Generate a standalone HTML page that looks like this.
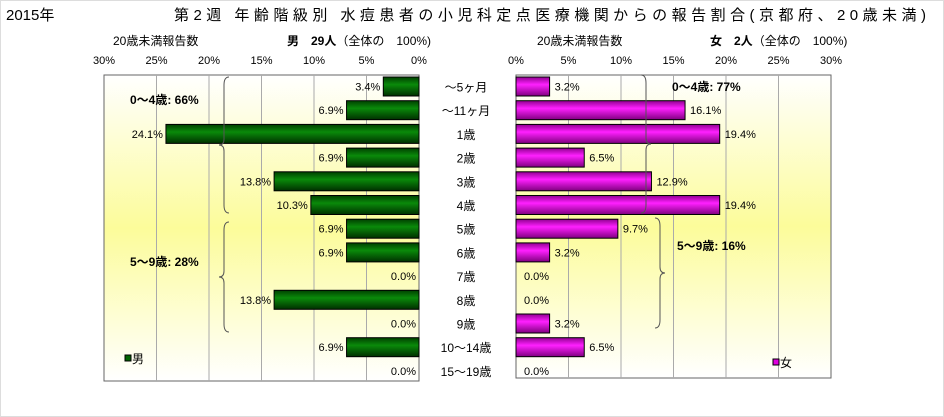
<!DOCTYPE html>
<html><head><meta charset="utf-8"><style>
body{margin:0;background:#fff}
svg{display:block;font-family:"Liberation Sans","Noto Sans CJK JP",sans-serif}
</style></head><body>
<svg id="chart" width="944" height="417" viewBox="0 0 944 417" xmlns="http://www.w3.org/2000/svg">
<defs>
<linearGradient id="bg" x1="0" y1="0" x2="0" y2="1">
<stop offset="0" stop-color="#ffffff"/><stop offset="0.5" stop-color="#fcfc9a"/><stop offset="1" stop-color="#ffffff"/>
</linearGradient>
<linearGradient id="gm" x1="0" y1="0" x2="0" y2="1">
<stop offset="0" stop-color="#004000"/><stop offset="0.4" stop-color="#0a8a0a"/><stop offset="1" stop-color="#003000"/>
</linearGradient>
<linearGradient id="gf" x1="0" y1="0" x2="0" y2="1">
<stop offset="0" stop-color="#900090"/><stop offset="0.4" stop-color="#ff20ff"/><stop offset="1" stop-color="#800080"/>
</linearGradient>
</defs>
<rect x="0.5" y="0.5" width="943" height="416" fill="#fff" stroke="#ddd"/>
<text x="6" y="20" font-size="15">2015年</text>
<text x="174" y="20" font-size="15" textLength="752">第2週 年齢階級別 水痘患者の小児科定点医療機関からの報告割合(京都府、20歳未満)</text>
<text x="113" y="45" font-size="12">20歳未満報告数</text>
<text x="287" y="45" font-size="12"><tspan font-weight="bold">男　29人</tspan>（全体の　100%)</text>
<text x="537" y="45" font-size="12">20歳未満報告数</text>
<text x="710" y="45" font-size="12"><tspan font-weight="bold">女　2人</tspan>（全体の　100%)</text>
<g id="g"></g>
</svg>
<script>
const categories=["～5ヶ月","～11ヶ月","1歳","2歳","3歳","4歳","5歳","6歳","7歳","8歳","9歳","10～14歳","15～19歳"];
const maleValues=[3.4,6.9,24.1,6.9,13.8,10.3,6.9,6.9,0.0,13.8,0.0,6.9,0.0];
const femaleValues=[3.2,16.1,19.4,6.5,12.9,19.4,9.7,3.2,0.0,0.0,3.2,6.5,0.0];
const tickValues=[0,5,10,15,20,25,30];
const tickLabels=["0%","5%","10%","15%","20%","25%","30%"];
const NS="http://www.w3.org/2000/svg";
const g=document.getElementById('g');
const PX=315/30;
const mX=v=>419-v*PX, fX=v=>516+v*PX;
const rowY=i=>86.5+i*23.7;
function el(t,a,p){const e=document.createElementNS(NS,t);for(const k in a)e.setAttribute(k,a[k]);(p||g).appendChild(e);return e;}
// plot areas
let r=el('rect',{x:104,y:75,width:315,height:306,fill:'url(#bg)',stroke:'#666'});


r=el('rect',{x:516,y:75,width:315,height:303,fill:'url(#bg)',stroke:'#666'});


tickValues.forEach((v,i)=>{
  if(v>0&&v<30){
    let l=el('line',{x1:mX(v),x2:mX(v),y1:75,y2:381,stroke:'#aaa'});
    
    
    l=el('line',{x1:fX(v),x2:fX(v),y1:75,y2:378,stroke:'#aaa'});
    
    
  }
  let t=el('text',{x:mX(v),y:64,'font-size':11,'text-anchor':'middle'});t.textContent=tickLabels[i];
  
  
  t=el('text',{x:fX(v),y:64,'font-size':11,'text-anchor':'middle'});t.textContent=tickLabels[i];
  
  
});
categories.forEach((c,i)=>{
  const y=rowY(i);
  let t=el('text',{x:466,y:y+5,'font-size':12,'text-anchor':'middle'});t.textContent=c;
  
  
  const mv=maleValues[i],fv=femaleValues[i];
  if(mv>0){
    const b=el('rect',{x:mX(mv),y:y-9.5,width:mv*PX,height:19,fill:'url(#gm)',stroke:'#000'});
    
    
  }
  t=el('text',{x:mX(mv)-3,y:y+4,'font-size':11,'text-anchor':'end'});t.textContent=mv.toFixed(1)+'%';
  
  
  if(fv>0){
    const b=el('rect',{x:516,y:y-9.5,width:fv*PX,height:19,fill:'url(#gf)',stroke:'#000'});
    
    
  }
  t=el('text',{x:fX(fv)+(fv>0?5:8),y:y+4,'font-size':11});t.textContent=fv.toFixed(1)+'%';
  
  
});
function brace(x,y1,y2,dir,name){
  const m=(y1+y2)/2,d=dir*5;
  const p=el('path',{d:`M${x+d},${y1} Q${x},${y1} ${x},${y1+8} L${x},${m-6} Q${x},${m} ${x-d},${m} Q${x},${m} ${x},${m+6} L${x},${y2-8} Q${x},${y2} ${x+d},${y2}`,fill:'none',stroke:'#555'});
  
  
}
brace(224,77,213,1,'male-brace-0-4');
brace(224,222,332,1,'male-brace-5-9');
brace(646,75,213,-1,'female-brace-0-4');
brace(660,218,328,-1,'female-brace-5-9');
[[130,104,'0～4歳: 66%','male-group-0-4'],[130,266,'5～9歳: 28%','male-group-5-9'],[672,91,'0～4歳: 77%','female-group-0-4'],[677,250,'5～9歳: 16%','female-group-5-9']].forEach(a=>{
  const t=el('text',{x:a[0],y:a[1],'font-size':12,'font-weight':'bold'});t.textContent=a[2];
  
  
});
let lg=el('rect',{x:125,y:355,width:6,height:6,fill:'#006400',stroke:'#000'});


let lt=el('text',{x:132,y:363,'font-size':12});lt.textContent='男';


lg=el('rect',{x:773,y:359,width:6,height:6,fill:'#e000e0',stroke:'#000'});


lt=el('text',{x:780,y:367,'font-size':12});lt.textContent='女';


</script>
</body></html>
